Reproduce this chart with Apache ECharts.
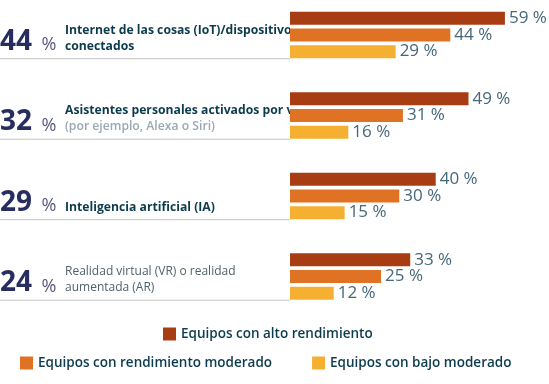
<!DOCTYPE html>
<html>
<head>
<meta charset="utf-8">
<script src="https://cdn.jsdelivr.net/npm/echarts@6/dist/echarts.min.js"></script>
<style>html,body{margin:0;padding:0;background:#fff}#c{width:549px;height:384px}</style>
</head>
<body>
<div id="c"></div>
<script>
const categories = ['IoT', 'Asistentes', 'IA', 'VR/AR'];
const overall = [44, 32, 29, 24];
const descLines = [
  ['Internet de las cosas (IoT)/dispositivos', 'conectados'],
  ['Asistentes personales activados por voz', '(por ejemplo, Alexa o Siri)'],
  ['Inteligencia artificial (IA)'],
  ['Realidad virtual (VR) o realidad', 'aumentada (AR)']
];
const seriesNames = ['Equipos con alto rendimiento', 'Equipos con rendimiento moderado', 'Equipos con bajo moderado'];
const highPerf = [59, 49, 40, 33];
const moderatePerf = [44, 31, 30, 25];
const lowPerf = [29, 16, 15, 12];

const colors = ['#a83d14', '#e07224', '#f5af31'];
const FONT = 'Open Sans';
const descStyles = [
  ['bold', 'bold'],
  ['bold', 'sub'],
  ['bold'],
  ['normal', 'normal']
];

const chart = echarts.init(document.getElementById('c'));
const valueLabel = {
  show: true, position: 'right', distance: 4,
  formatter: p => p.value + ' %',
  fontFamily: FONT, fontSize: 17, color: '#45687a'
};
const dataSets = [highPerf, moderatePerf, lowPerf];
const legendText = { fontFamily: FONT, fontSize: 13.5, fontWeight: 600, color: '#0c3b4d' };
chart.setOption({
  animation: false,
  color: colors,
  grid: { left: 290, width: 255, top: 35, height: 241.5 },
  xAxis: { type: 'value', min: 0, max: 70, show: false },
  yAxis: { type: 'category', data: categories, inverse: true, show: false, boundaryGap: false },
  legend: [
    { data: [seriesNames[0]], left: 163, top: 327, padding: 0, icon: 'rect', itemWidth: 13, itemHeight: 13, textStyle: legendText },
    { data: [seriesNames[1], seriesNames[2]], left: 20, top: 356, padding: 0, itemGap: 40, icon: 'rect', itemWidth: 13, itemHeight: 13, textStyle: legendText }
  ],
  series: dataSets.map((d, i) => ({
    type: 'bar', name: seriesNames[i], data: d, z: 5,
    barWidth: 13, barGap: '28%',
    label: valueLabel
  }))
});

function drawTexts() {
  const els = [];
  categories.forEach((cat, i) => {
    const yc = chart.convertToPixel({ yAxisIndex: 0 }, cat);
    const base = yc + 15.5;
    els.push({ type: 'text', x: 0, y: base - 8.5, z: 0, style: {
      text: String(overall[i]), fontFamily: FONT, fontSize: 28, fontWeight: 'bold', fill: '#272d5f',
      verticalAlign: 'middle', align: 'left' } });
    els.push({ type: 'text', x: 41.5, y: base - 5.3, z: 0, style: {
      text: '%', fontFamily: FONT, fontSize: 18, fill: '#55597a', verticalAlign: 'middle', align: 'left' } });
    const lines = descLines[i];
    lines.forEach((ln, j) => {
      const lb = base - 16 * (lines.length - 1 - j);
      const st = descStyles[i][j];
      els.push({ type: 'text', x: 65, y: lb - 4.2, z: 0, style: {
        text: ln, fontFamily: FONT, fontSize: st === 'normal' ? 12 : 12.2,
        fontWeight: st === 'bold' ? 'bold' : (st === 'sub' ? 600 : 'normal'),
        fill: st === 'bold' ? '#0c3b4d' : (st === 'sub' ? '#98a9b5' : '#50616c'),
        verticalAlign: 'middle', align: 'left' } });
    });
    // white mask clipping the description text at the bar baseline
    els.push({ type: 'rect', z: 1, shape: { x: 290, y: yc - 24, width: 259, height: 48 }, style: { fill: '#fff' } });
    const ly = yc + 6.5 + 3.7 + 13 + 0.5;
    els.push({ type: 'line', z: 2, shape: { x1: 0, y1: ly, x2: 290, y2: ly }, style: { stroke: '#c4c4c4', lineWidth: 1 } });
  });
  chart.setOption({ graphic: els });
}
drawTexts();
</script>
</body>
</html>
